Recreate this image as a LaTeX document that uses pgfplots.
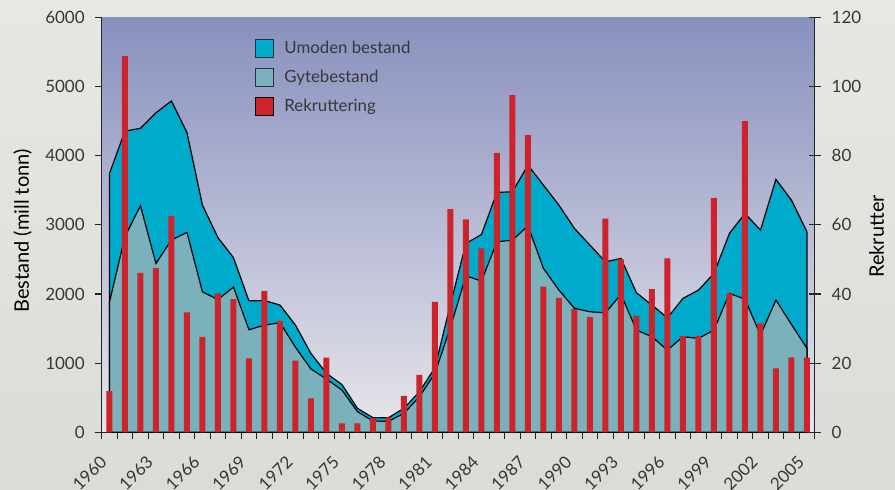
\documentclass[border=0pt]{standalone}
\usepackage{fontspec}
\setmainfont{Lato}
\usepackage{pgfplots}
\usepackage{pgfplotstable}
\pgfplotsset{compat=1.18}
\definecolor{bgout}{RGB}{231,232,227}
\definecolor{bgoutb}{RGB}{219,220,215}
\definecolor{plottop}{RGB}{136,144,190}
\definecolor{plotbot}{RGB}{231,230,235}
\definecolor{umoden}{RGB}{0,170,202}
\definecolor{gyte}{RGB}{122,177,187}
\definecolor{rekr}{RGB}{205,35,43}
\definecolor{txt}{RGB}{55,55,55}
\definecolor{axl}{RGB}{35,35,35}
\definecolor{legbd}{RGB}{40,50,60}

\pgfplotstableread{
year total gyte rekr
1960 3740 1880 11.9
1961 4355 2830 108.8
1962 4395 3275 46.1
1963 4620 2440 47.5
1964 4790 2780 62.6
1965 4335 2890 34.7
1966 3285 2030 27.6
1967 2815 1920 40.2
1968 2525 2100 38.5
1969 1900 1482 21.4
1970 1905 1550 40.8
1971 1840 1585 32.2
1972 1550 1230 20.7
1973 1140 915 9.8
1974 852 770 21.6
1975 690 611 2.6
1976 347 299 2.6
1977 211 163 4.0
1978 211 159 4.3
1979 347 274 10.5
1980 587 515 16.6
1981 934 852 37.7
1982 1850 1520 64.5
1983 2730 2263 61.6
1984 2860 2186 53.2
1985 3468 2754 80.8
1986 3477 2779 97.5
1987 3862 2985 85.9
1988 3573 2370 42.1
1989 3284 2056 38.9
1990 2948 1792 35.6
1991 2706 1743 33.4
1992 2465 1728 61.8
1993 2514 1994 50.0
1994 2017 1478 33.7
1995 1839 1382 41.4
1996 1656 1189 50.3
1997 1936 1382 27.9
1998 2056 1358 27.9
1999 2297 1478 67.8
2000 2875 2008 40.2
2001 3164 1926 90.0
2002 2923 1406 31.5
2003 3656 1912 18.5
2004 3357 1560 21.7
2005 2899 1214 21.6
}\data

\pgfplotsset{
  common/.style={
    at={(50.85pt,28.35pt)}, anchor=south west,
    scale only axis, width=356.5pt, height=207.5pt,
    xmin=1959.5, xmax=2005.5,
    axis line style={axl, line width=0.7pt},
    tick style={axl, line width=0.6pt},
    /pgf/number format/assume math mode=true,
    /pgf/number format/1000 sep={},
    scaled y ticks=false,
    ticklabel style={font=\fontsize{8.5}{10}\selectfont, text=txt},
    label style={font=\fontsize{10}{12}\selectfont, text=txt},
  }
}

\begin{document}
\begin{tikzpicture}
\path[use as bounding box, top color=bgout, bottom color=bgoutb] (0,0) rectangle (447.5pt,244.5pt);
\begin{axis}[common,
  ymin=0, ymax=6000,
  axis x line*=bottom, axis y line*=left,
  axis background/.style={top color=plottop, bottom color=plotbot},
  tick align=outside, major tick length=3.5pt, minor tick length=3.5pt,
  ytick={0,1000,...,6000},
  xtick={1959.5,1962.5,...,2004.5},
  minor xtick={1959.5,1960.5,...,2005.5},
  xticklabels={1960,1963,1966,1969,1972,1975,1978,1981,1984,1987,1990,1993,1996,1999,2002,2005},
  x tick label style={xshift=1.0pt, yshift=-9.8pt, rotate=45, anchor=east, inner sep=0pt},
  y tick label style={inner sep=0pt, xshift=-4.8pt},
  every axis y label/.style={at={(axis description cs:-0.111,0.485)}, anchor=center, rotate=90},
  ylabel={Bestand (mill tonn)},
  legend image code/.code={\draw[#1] (0pt,-4.5pt) rectangle (9pt,4.5pt);},
  legend style={at={(axis description cs:0.215,0.948)}, anchor=north west,
    draw=none, fill=none, inner sep=0pt, row sep=5pt, column sep=5pt,
    font=\fontsize{8.4}{10}\selectfont, text=txt,
    nodes={inner sep=0pt}, cells={anchor=west}},
]
\addplot[fill=umoden, draw=black, line width=0.6pt, forget plot] table[x=year,y=total]{\data} \closedcycle;
\addplot[fill=gyte, draw=black, line width=0.6pt, forget plot] table[x=year,y=gyte]{\data} \closedcycle;
\addlegendimage{fill=umoden, draw=legbd, line width=0.5pt}
\addlegendentry{Umoden bestand}
\addlegendimage{fill=gyte, draw=legbd, line width=0.5pt}
\addlegendentry{Gytebestand}
\addlegendimage{fill=rekr, draw=none}
\addlegendentry{Rekruttering}
\end{axis}
\begin{axis}[common,
  ymin=0, ymax=120,
  axis y line*=right, axis x line=none,
  tick align=center, major tick length=6pt,
  ytick={0,20,...,120},
  y tick label style={inner sep=0pt, xshift=5.3pt},
  every axis y label/.style={at={(axis description cs:1.0867,0.472)}, anchor=center, rotate=90},
  ylabel={Rekrutter},
]
\addplot[ybar, bar width=0.387, fill=rekr, draw=none] table[x=year,y=rekr]{\data};
\end{axis}
\end{tikzpicture}
\end{document}
